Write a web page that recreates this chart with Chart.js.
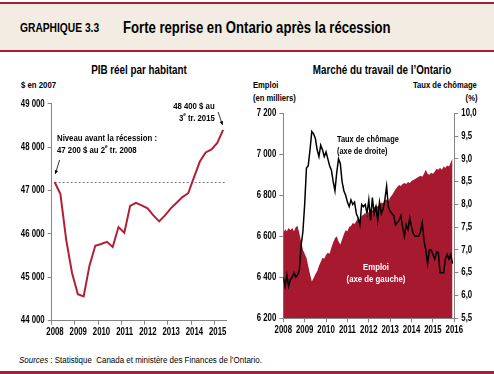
<!DOCTYPE html>
<html><head><meta charset="utf-8">
<script src="https://cdn.jsdelivr.net/npm/chart.js@4/dist/chart.umd.min.js"></script>
<style>
body{margin:0;width:494px;height:374px;position:relative;background:#fff;overflow:hidden;
 font-family:"Liberation Sans",Arial,sans-serif;color:#000;}
.abs{position:absolute;white-space:nowrap;line-height:1;}
.b{font-weight:bold;}
.nl{transform:scaleX(0.82);transform-origin:left center;}
.nr{transform:scaleX(0.82);transform-origin:right center;}
.nc{transform:scaleX(0.82);transform-origin:center center;}
#topline{left:0;top:2px;width:494px;height:2px;background:#a51f37}
#band{left:0;top:4px;width:494px;height:46px;background:#f2ece2}
#bandline{left:0;top:50px;width:494px;height:2px;background:#a51f37}
#footline{left:0;top:371px;width:494px;height:3px;background:#a51f37}
sup{font-size:60%;vertical-align:top;position:relative;top:-1px}
canvas{position:absolute}
</style></head>
<body>
<div class="abs" id="topline"></div>
<div class="abs" id="band"></div>
<div class="abs" id="bandline"></div>
<div class="abs b nl" style="left:20px;top:21.5px;font-size:12.5px">GRAPHIQUE 3.3</div>
<div class="abs b nl" style="left:123px;top:20px;font-size:16px">Forte reprise en Ontario après la récession</div>

<div class="abs b nc" style="left:39px;top:64px;width:200px;text-align:center;font-size:12px">PIB réel par habitant</div>
<div class="abs b nc" style="left:282px;top:64px;width:200px;text-align:center;font-size:12px">Marché du travail de l’Ontario</div>
<div class="abs b nl" style="left:21px;top:80px;font-size:9.5px">$ en 2007</div>
<div class="abs b nl" style="left:253px;top:81px;font-size:9.3px">Emploi</div>
<div class="abs b nl" style="left:253px;top:94px;font-size:9.3px">(en milliers)</div>
<div class="abs b nr" style="right:17px;top:81px;font-size:9.3px">Taux de chômage</div>
<div class="abs b nr" style="right:17px;top:94px;font-size:9.3px">(%)</div>

<canvas id="c1" width="240" height="260" style="left:0;top:90px;width:240px;height:260px"></canvas>
<canvas id="c2" width="254" height="260" style="left:240px;top:90px;width:254px;height:260px"></canvas>

<div class="abs b nl" style="left:57px;top:132.5px;font-size:9.5px">Niveau avant la récession :</div>
<div class="abs b nl" style="left:57px;top:145px;font-size:9.5px">47 200 $ au 2<sup>e</sup> tr. 2008</div>
<div class="abs b nr" style="right:279px;top:101px;font-size:9.5px">48 400 $ au</div>
<div class="abs b nr" style="right:279px;top:112.5px;font-size:9.5px">3<sup>e</sup> tr. 2015</div>

<div class="abs b nl" style="left:337px;top:135px;font-size:9px">Taux de chômage</div>
<div class="abs b nl" style="left:337px;top:146.5px;font-size:9px">(axe de droite)</div>
<div class="abs b nc" style="left:326px;top:262px;width:100px;text-align:center;font-size:9.5px;color:#fff">Emploi</div>
<div class="abs b nc" style="left:326px;top:274px;width:100px;text-align:center;font-size:9.5px;color:#fff">(axe de gauche)</div>

<div class="abs nl" style="left:19px;top:354.5px;font-size:9.7px"><i>Sources</i> : Statistique&nbsp; Canada et ministère des Finances de l’Ontario.</div>
<div class="abs" id="footline"></div>

<script>
// ---- Data: real GDP per capita (2007 $), quarterly 2008 T2 .. 2015 T3
const pibQuarters = ['2008T2','2008T3','2008T4','2009T1','2009T2','2009T3','2009T4','2010T1','2010T2','2010T3','2010T4','2011T1','2011T2','2011T3','2011T4','2012T1','2012T2','2012T3','2012T4','2013T1','2013T2','2013T3','2013T4','2014T1','2014T2','2014T3','2014T4','2015T1','2015T2','2015T3'];
const pibValues = [47200,46920,45860,45100,44610,44560,45270,45730,45770,45820,45700,46160,46030,46650,46720,46660,46590,46430,46290,46430,46590,46720,46850,46940,47310,47670,47880,47950,48100,48400];
const pibPreRecession = 47200;
const pibYearLabels = ['2008','2009','2010','2011','2012','2013','2014','2015'];

// ---- Data: Ontario labour market, monthly Jan 2008 .. Dec 2015
const emploi = [6615,6635,6625,6640,6630,6640,6625,6645,6650,6615,6575,6535,
 6515,6495,6455,6415,6380,6395,6415,6430,6455,6475,6495,6490,
 6510,6520,6515,6545,6570,6590,6600,6575,6560,6585,6610,6630,
 6625,6645,6650,6665,6660,6675,6690,6680,6700,6705,6715,6700,
 6720,6735,6725,6740,6750,6745,6755,6765,6760,6775,6780,6770,
 6790,6800,6815,6830,6840,6850,6845,6855,6860,6855,6865,6860,
 6870,6875,6880,6885,6890,6895,6890,6905,6925,6905,6900,6910,
 6905,6915,6930,6925,6935,6925,6940,6935,6945,6940,6960,6980];
const chomage = [6.4,6.2,6.45,6.2,6.35,6.4,6.5,6.4,6.45,6.55,7.1,7.4,
 8.0,8.8,8.85,9.2,9.6,9.55,9.45,9.2,9.05,9.3,9.2,9.05,
 9.15,9.0,8.85,8.75,8.5,8.3,8.7,9.0,8.9,8.5,8.3,8.2,
 8.05,7.95,8.1,8.0,8.05,7.8,7.7,7.55,8.0,7.95,8.0,7.8,
 8.1,7.65,8.15,7.8,7.95,7.65,8.05,7.8,7.9,8.1,8.4,7.95,
 7.85,7.8,7.75,7.55,7.6,7.65,7.75,7.5,7.3,7.55,7.45,7.7,
 7.5,7.35,7.3,7.3,7.3,7.4,7.6,7.2,7.0,6.7,7.0,7.0,
 6.9,6.8,6.95,6.95,6.5,6.5,6.5,6.8,6.9,6.8,6.9,6.7];
const marketYearLabels = ['2008','2009','2010','2011','2012','2013','2014','2015','2016'];

const FONT = '"Liberation Sans",Arial,sans-serif';
const AX = '#868686';
const RED = '#a6192e';
const thou = v => String(v).replace(/\B(?=(\d{3})+(?!\d))/g,' ');
const tickFont = {family:FONT,size:10,weight:'bold'};

// condensed text rendering (narrow-font look) for canvas labels
function condense(canvas,f){
  const ctx=canvas.getContext('2d');
  const orig=ctx.fillText.bind(ctx);
  ctx.fillText=function(t,x,y){const w=ctx.measureText(t).width;return orig(t,x,y,Math.max(1,w*f));};
}

function arrow(ctx,x1,y1,x2,y2){
  ctx.save();
  ctx.strokeStyle='#000';ctx.fillStyle='#000';ctx.lineWidth=0.8;
  ctx.beginPath();ctx.moveTo(x1,y1);ctx.lineTo(x2,y2);ctx.stroke();
  const a=Math.atan2(y2-y1,x2-x1),L=4,W=0.45;
  ctx.beginPath();ctx.moveTo(x2,y2);
  ctx.lineTo(x2-L*Math.cos(a-W),y2-L*Math.sin(a-W));
  ctx.lineTo(x2-L*Math.cos(a+W),y2-L*Math.sin(a+W));
  ctx.closePath();ctx.fill();ctx.restore();
}

const pibPlugin = {
  id:'pibDecor',
  beforeDatasetsDraw(chart){
    const {ctx,chartArea:a,scales:{y}}=chart;
    const yy=Math.round(y.getPixelForValue(pibPreRecession))+0.5;
    ctx.save();ctx.strokeStyle='#7a7a7a';ctx.lineWidth=1;ctx.setLineDash([2,2]);
    ctx.beginPath();ctx.moveTo(a.left+3,yy);ctx.lineTo(a.right,yy);ctx.stroke();ctx.restore();
  },
  afterDatasetsDraw(chart){
    const {ctx,scales:{x,y}}=chart;
    const n=pibValues.length-1;
    const p0x=x.getPixelForValue(0),p0y=y.getPixelForValue(pibValues[0]);
    arrow(ctx,p0x+5,p0y-22,p0x+0.7,p0y-8);
    const p1x=x.getPixelForValue(n),p1y=y.getPixelForValue(pibValues[n]);
    arrow(ctx,p1x-5,p1y-18,p1x-0.6,p1y-5);
  }
};

const c1=document.getElementById('c1'), c2=document.getElementById('c2');
condense(c1,0.78); condense(c2,0.78);

new Chart(c1,{
  type:'line',
  data:{labels:pibQuarters,datasets:[{
    data:pibValues.map((v,i)=>({x:i,y:v})),
    borderColor:'#b21f38',borderWidth:2,pointRadius:0,tension:0,fill:false
  }]},
  options:{
    responsive:false,animation:false,devicePixelRatio:1,
    layout:{padding:{top:13.9,right:14,left:0,bottom:0}},
    plugins:{legend:{display:false},tooltip:{enabled:false}},
    scales:{
      x:{type:'linear',min:-0.5,max:pibQuarters.length-0.5,
        afterBuildTicks:s=>{s.ticks=pibYearLabels.map((_,k)=>({value:4*k-0.5}));},
        afterFit:s=>{s.height=29.3;},
        ticks:{autoSkip:false,maxRotation:0,padding:2,labelOffset:3.3,color:'#000',font:tickFont,
          callback:(v,i)=>pibYearLabels[i]},
        grid:{drawOnChartArea:false,drawTicks:true,tickLength:4,color:AX},
        border:{color:AX,width:1}},
      y:{min:44000,max:49000,
        afterBuildTicks:s=>{const t=[];for(let v=44000;v<=49000;v+=1000)t.push({value:v});s.ticks=t;},
        afterFit:s=>{s.width=51.7;},
        ticks:{padding:3,color:'#000',font:tickFont,callback:v=>thou(v)},
        grid:{drawOnChartArea:false,drawTicks:true,tickLength:4,color:AX},
        border:{color:AX,width:1}}
    }
  },
  plugins:[pibPlugin]
});

new Chart(c2,{
  type:'line',
  data:{datasets:[
    {data:chomage.map((v,i)=>({x:i,y:v})),yAxisID:'y2',order:1,
      borderColor:'#000',borderWidth:1.5,pointRadius:0,tension:0,fill:false},
    {data:emploi.map((v,i)=>({x:i,y:v})),yAxisID:'y',order:2,
      borderWidth:0,borderColor:RED,backgroundColor:RED,pointRadius:0,tension:0,fill:'start'}
  ]},
  options:{
    responsive:false,animation:false,devicePixelRatio:1,
    layout:{padding:{top:23.3,right:0,left:0,bottom:0}},
    plugins:{legend:{display:false},tooltip:{enabled:false}},
    scales:{
      x:{type:'linear',min:0,max:(marketYearLabels.length-1)*12,
        afterBuildTicks:s=>{s.ticks=marketYearLabels.map((_,k)=>({value:12*k}));},
        afterFit:s=>{s.height=31.7;},
        ticks:{autoSkip:false,maxRotation:0,padding:2,color:'#000',font:tickFont,
          callback:(v,i)=>marketYearLabels[i]},
        grid:{drawOnChartArea:false,drawTicks:true,tickLength:4,color:AX},
        border:{color:AX,width:1}},
      y:{position:'left',min:6200,max:7200,
        afterBuildTicks:s=>{const t=[];for(let v=6200;v<=7200;v+=200)t.push({value:v});s.ticks=t;},
        afterFit:s=>{s.width=43.3;},
        ticks:{padding:3,color:'#000',font:tickFont,callback:v=>thou(v)},
        grid:{drawOnChartArea:false,drawTicks:true,tickLength:4,color:AX},
        border:{color:AX,width:1}},
      y2:{position:'right',min:5.5,max:10,
        afterBuildTicks:s=>{const t=[];for(let v=5.5;v<=10.001;v+=0.5)t.push({value:Math.round(v*10)/10});s.ticks=t;},
        afterFit:s=>{s.width=39.7;},
        ticks:{padding:3,color:'#000',font:tickFont,callback:v=>v.toFixed(1).replace('.',',')},
        grid:{drawOnChartArea:false,drawTicks:true,tickLength:4,color:AX},
        border:{color:AX,width:1}}
    }
  }
});
</script>
</body></html>
